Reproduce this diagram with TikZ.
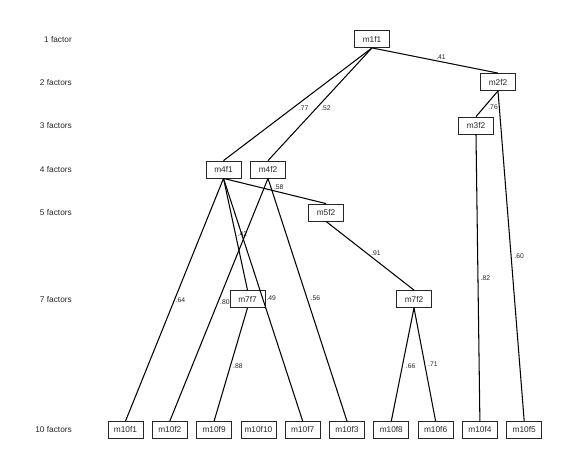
\documentclass[tikz,border=0pt]{standalone}
\usepackage{fontspec}
\setmainfont{Liberation Sans}
\begin{document}
\begin{tikzpicture}[x=1pt,y=-1pt,
  box/.style={draw=black!85, line width=0.8pt, minimum width=35pt, minimum height=17pt, inner sep=0pt, font=\fontsize{8.3}{9}\selectfont, text=black!85},
  rowlbl/.style={anchor=east, inner sep=0pt, font=\fontsize{8.3}{9}\selectfont, text=black!85},
  edge/.style={draw=black, line width=1.05pt},
  lbl/.style={inner sep=0.8pt, font=\fontsize{6.8}{7}\selectfont, text=black!85, anchor=west}
]
\useasboundingbox (0,0) rectangle (576,468);
% row labels
\node[rowlbl] (r1) at (72,40) {1 factor};
\node[rowlbl] (r2) at (72,82.7) {2 factors};
\node[rowlbl] (r3) at (72,126) {3 factors};
\node[rowlbl] (r4) at (72,170) {4 factors};
\node[rowlbl] (r5) at (72,212.7) {5 factors};
\node[rowlbl] (r7) at (72,300) {7 factors};
\node[rowlbl] (r10) at (72,430) {10 factors};
% nodes
\node[box] (m1f1) at (372,39) {m1f1};
\node[box] (m2f2) at (498,82) {m2f2};
\node[box] (m3f2) at (476,125.5) {m3f2};
\node[box] (m4f1) at (223.5,169.5) {m4f1};
\node[box] (m4f2) at (268,169.5) {m4f2};
\node[box] (m5f2) at (326,212.5) {m5f2};
\node[box] (m7f7) at (247.5,299) {m7f7};
\node[box] (m7f2) at (414,299) {m7f2};
\node[box] (m10f1) at (125.5,430) {m10f1};
\node[box] (m10f2) at (169.8,430) {m10f2};
\node[box] (m10f9) at (214.1,430) {m10f9};
\node[box] (m10f10) at (258.4,430) {m10f10};
\node[box] (m10f7) at (302.7,430) {m10f7};
\node[box] (m10f3) at (347,430) {m10f3};
\node[box] (m10f8) at (391.3,430) {m10f8};
\node[box] (m10f6) at (435.6,430) {m10f6};
\node[box] (m10f4) at (479.9,430) {m10f4};
\node[box] (m10f5) at (524.2,430) {m10f5};
% edges
\draw[edge] (m1f1.south) -- node[lbl, anchor=south west] {.41} (m2f2.north);
\draw[edge] (m1f1.south) -- node[lbl, yshift=-4pt] {.77} (m4f1.north);
\draw[edge] (m1f1.south) -- node[lbl, yshift=-3.5pt] {.52} (m4f2.north);
\draw[edge] (m2f2.south) -- node[lbl, yshift=-3.5pt] {.76} (m3f2.north);
\draw[edge] (m2f2.south) -- node[lbl, xshift=2pt] {.60} (m10f5.north);
\draw[edge] (m3f2.south) -- node[lbl, xshift=1.5pt] {.82} (m10f4.north);
\draw[edge] (m4f1.south) -- node[lbl, anchor=south west, xshift=-2pt] {.58} (m5f2.north);
\draw[edge] (m4f1.south) -- node[lbl, xshift=1pt] {.42} (m7f7.north);
\draw[edge] (m4f1.south) -- node[lbl] {.64} (m10f1.north);
\draw[edge] (m4f1.south) -- node[lbl, xshift=2pt, yshift=2pt] {.49} (m10f7.north);
\draw[edge] (m4f2.south) -- node[lbl, yshift=-2pt] {.80} (m10f2.north);
\draw[edge] (m4f2.south) -- node[lbl, xshift=2pt, yshift=2pt] {.56} (m10f3.north);
\draw[edge] (m5f2.south) -- node[lbl, anchor=south west, yshift=-1pt] {.91} (m7f2.north);
\draw[edge] (m7f7.south) -- node[lbl, xshift=1pt, yshift=-2pt] {.88} (m10f9.north);
\draw[edge] (m7f2.south) -- node[lbl, xshift=2pt, yshift=-2pt] {.66} (m10f8.north);
\draw[edge] (m7f2.south) -- node[lbl, xshift=2pt] {.71} (m10f6.north);
\end{tikzpicture}
\end{document}
